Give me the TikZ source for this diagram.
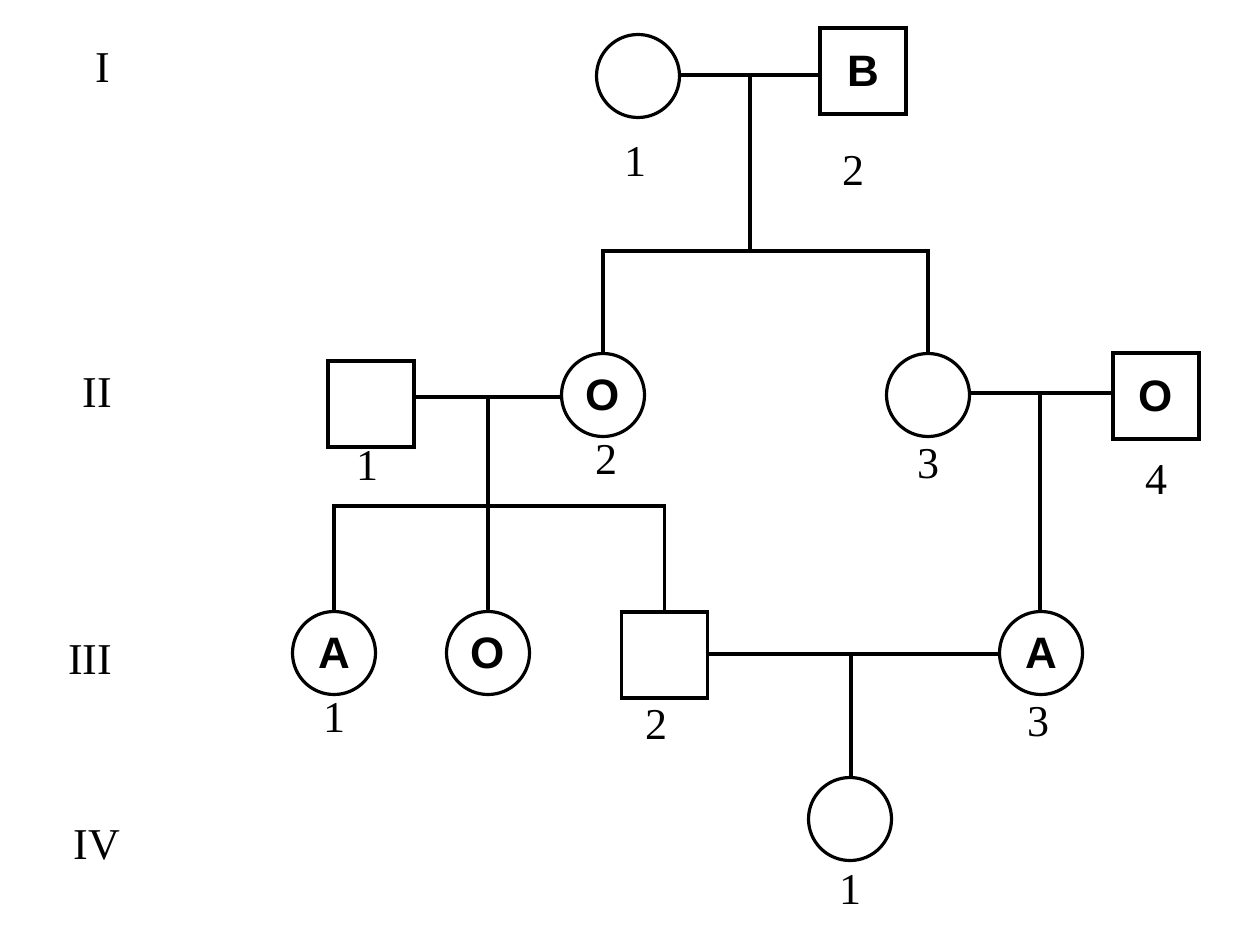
\documentclass[tikz,border=0pt]{standalone}
\usepackage{fontspec}
\setmainfont{Liberation Serif}
\newfontfamily\lettfont{Liberation Sans}
\begin{document}
\begin{tikzpicture}[x=0.5pt,y=-0.5pt,
  line width=1.6pt,
  fem/.style={circle,draw,minimum size=41.5pt,inner sep=0pt,font=\lettfont\bfseries\fontsize{22}{26}\selectfont},
  mal/.style={rectangle,draw,minimum size=43pt,inner sep=0pt,font=\lettfont\bfseries\fontsize{22}{26}\selectfont},
  num/.style={inner sep=0pt,font=\fontsize{22}{26}\selectfont},
  gen/.style={inner sep=0pt,font=\fontsize{22}{26}\selectfont}]
\useasboundingbox (0,0) rectangle (1246,936);
% generation labels
\node[gen] (gI) at (103,68) {I};
\node[gen] (gII) at (97,393) {II};
\node[gen] (gIII) at (90,660) {III};
\node[gen] (gIV) at (97,845) {IV};
% generation I
\node[fem] (i1) at (638,76) {};
\node[mal] (i2) at (863,71) {B};
\node[num] (li1) at (635,162) {1};
\node[num] (li2) at (853,171) {2};
% generation II
\node[mal] (ii1) at (371,404) {};
\node[fem] (ii2) at (603,395) {O};
\node[fem] (ii3) at (928,395) {};
\node[mal] (ii4) at (1156,396) {O};
\node[num] (lii1) at (367,466) {1};
\node[num] (lii2) at (606,460) {2};
\node[num] (lii3) at (928,464) {3};
\node[num] (lii4) at (1156,480) {4};
% generation III
\node[fem] (iii1) at (334,653) {A};
\node[fem] (iiio) at (488,653) {O};
\node[mal] (iii2) at (664.5,655) {};
\node[fem] (iii3) at (1041,653) {A};
\node[num] (liii1) at (334,718) {1};
\node[num] (liii2) at (656,725) {2};
\node[num] (liii3) at (1038,722) {3};
% generation IV
\node[fem] (iv1) at (850,819) {};
\node[num] (liv1) at (850,890) {1};
% couple I
\coordinate (m1) at (750,75);
\coordinate (s1) at (750,251);
\coordinate (s1r) at (930,251);
\draw (i1.east |- m1) -- (i2.west |- m1);
\draw (m1) -- (s1);
\draw (ii2.north) -- (ii2.north |- s1) -- (s1r);
\draw (ii3.north) -- (ii3.north |- s1);
% couple II-1 x II-2
\coordinate (m2) at (488,397);
\coordinate (s2) at (488,506);
\draw (ii1.east |- m2) -- (ii2.west |- m2);
\draw (m2) -- (s2);
\draw (iii1.north) -- (iii1.north |- s2) -- (iii2.north |- s2) -- (iii2.north);
\draw (s2) -- (iiio.north);
% couple II-3 x II-4
\coordinate (m3) at (1040,393);
\draw (ii3.east |- m3) -- (ii4.west |- m3);
\draw (m3) -- (m3 |- iii3.north);
% couple III-2 x III-3
\coordinate (m4) at (851,654);
\draw (iii2.east |- m4) -- (iii3.west |- m4);
\draw (m4) -- (m4 |- iv1.north);
\end{tikzpicture}
\end{document}
